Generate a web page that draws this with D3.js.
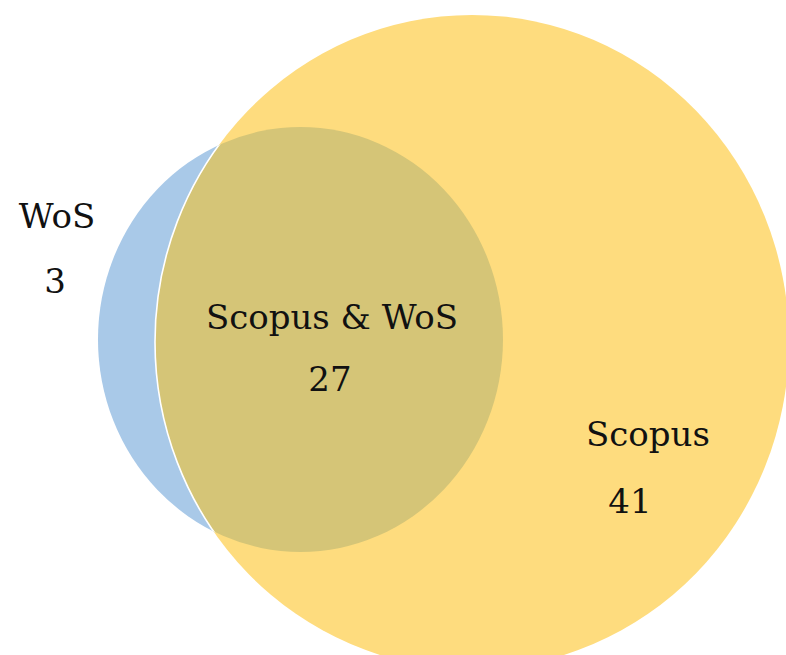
<!DOCTYPE html>
<html>
<head>
<meta charset="utf-8">
<script src="https://cdn.jsdelivr.net/npm/d3@7/dist/d3.min.js"></script>
<style>
  html, body { margin: 0; padding: 0; background: #ffffff; }
  svg { display: block; }
</style>
</head>
<body>
<script>
// ---- data ----
const setNames = ["WoS", "Scopus"];
const uniqueCounts = [3, 41];
const overlapLabel = "Scopus & WoS";
const overlapCount = 27;
const setColors = ["#A9C9E8", "#FEDC7E"];
const overlapColor = "#D5C577";

// ---- layout ----
const W = 786, H = 655;
const svg = d3.select("body").append("svg").attr("width", W).attr("height", H);

const x = d3.scaleLinear().domain([0, 1]).range([0, W]);
const y = d3.scaleLinear().domain([0, 1]).range([0, H]);
const geom = [
  { cx: x(0.3823), cy: y(0.5183), rx: 202.5, ry: 212.5 },  // WoS
  { cx: x(0.6005), cy: y(0.5221), rx: 317, ry: 327 }       // Scopus
];

const defs = svg.append("defs");
defs.append("clipPath").attr("id", "clipScopus")
  .append("ellipse")
  .attr("cx", geom[1].cx).attr("cy", geom[1].cy)
  .attr("rx", geom[1].rx).attr("ry", geom[1].ry);
defs.append("clipPath").attr("id", "clipWoS")
  .append("ellipse")
  .attr("cx", geom[0].cx).attr("cy", geom[0].cy)
  .attr("rx", geom[0].rx).attr("ry", geom[0].ry);

svg.selectAll("ellipse.set").data(geom).enter().append("ellipse")
  .attr("class", "set")
  .attr("cx", d => d.cx).attr("cy", d => d.cy)
  .attr("rx", d => d.rx).attr("ry", d => d.ry)
  .attr("fill", (d, i) => setColors[i]);

svg.append("ellipse")
  .attr("cx", geom[0].cx).attr("cy", geom[0].cy)
  .attr("rx", geom[0].rx).attr("ry", geom[0].ry)
  .attr("fill", overlapColor)
  .attr("clip-path", "url(#clipScopus)");

svg.append("ellipse")
  .attr("cx", geom[1].cx).attr("cy", geom[1].cy)
  .attr("rx", geom[1].rx).attr("ry", geom[1].ry)
  .attr("fill", "none")
  .attr("stroke", "#ffffff")
  .attr("stroke-width", 1.6)
  .attr("clip-path", "url(#clipWoS)");

// ---- labels ----
const labels = [
  { name: setNames[0], value: uniqueCounts[0], x: 57, y1: 228, y2: 293, nx: 55 },
  { name: overlapLabel, value: overlapCount, x: 332, y1: 329, y2: 391, nx: 330 },
  { name: setNames[1], value: uniqueCounts[1], x: 648, y1: 446, y2: 513, nx: 630 }
];

const fontFamily = "'DejaVu Serif', 'Liberation Serif', serif";
const g = svg.append("g").attr("font-family", fontFamily).attr("fill", "#111");
labels.forEach(l => {
  g.append("text").attr("x", l.x).attr("y", l.y1)
    .attr("text-anchor", "middle").attr("font-size", 34).text(l.name);
  g.append("text").attr("x", l.nx).attr("y", l.y2)
    .attr("text-anchor", "middle").attr("font-size", 34).text(l.value);
});
</script>
</body>
</html>
